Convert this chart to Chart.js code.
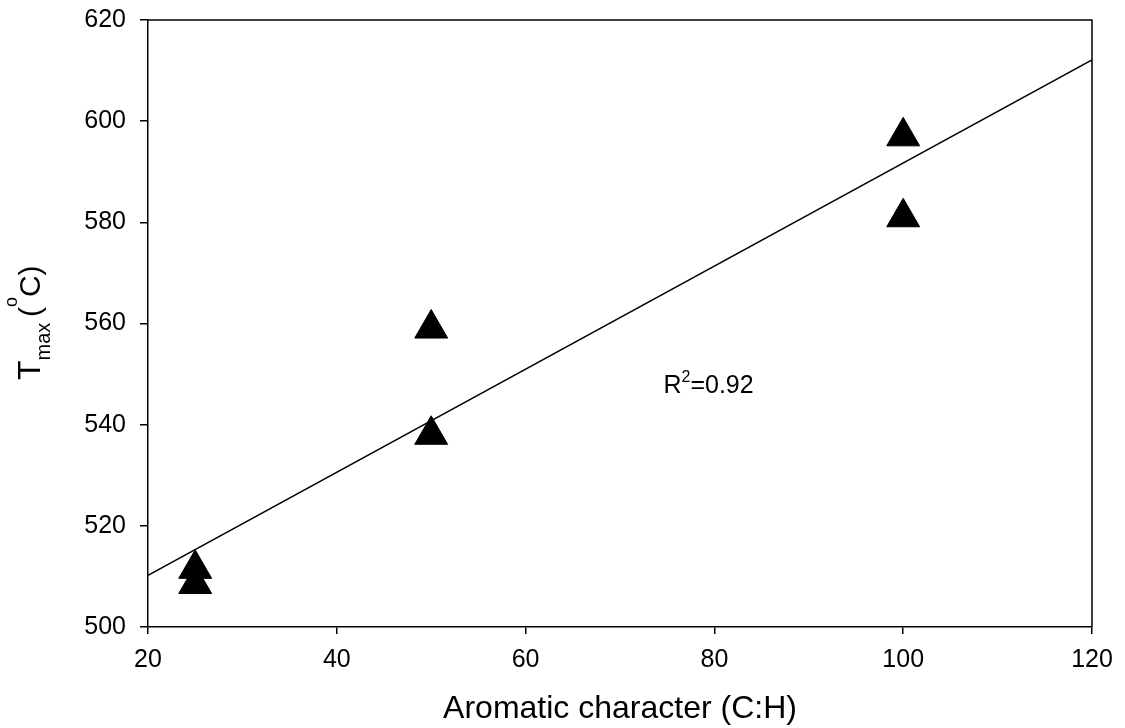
<!DOCTYPE html>
<html lang="en">
<head>
    <meta charset="UTF-8">
    <title>Tmax vs aromatic character</title>
    <script src="https://cdn.jsdelivr.net/npm/chart.js@4.4.1/dist/chart.umd.min.js"></script>
    <style>
        body { margin: 0; background: #fff; }
        canvas { display: block; }
    </style>
</head>
<body>
    <canvas id="grafica" width="1125" height="728"></canvas>
    <script>
// data
const aromatic = [25, 25, 50, 50, 100, 100];
const tmax = [511.5, 508.5, 559, 538, 597, 581];
// regression line ends
const fitX = [20, 120];
const fitY = [510.2, 612.1];
const xTicks = [20, 40, 60, 80, 100, 120];
const yTicks = [500, 520, 540, 560, 580, 600, 620];
const rText = ['R', '2', '=0.92'];
const rPos = [74.6, 546.2];

const FONT = "'Liberation Sans', Arial, sans-serif";

// box on top/right, y title with sub/superscript, R^2 note
const extras = {
  id: 'extras',
  afterDraw(chart) {
    const ctx = chart.ctx;
    const a = chart.chartArea;
    const xs = chart.scales.x, ys = chart.scales.y;
    ctx.save();
    ctx.strokeStyle = '#000';
    ctx.lineWidth = 1.5;
    ctx.beginPath();
    ctx.moveTo(a.left, a.top);
    ctx.lineTo(a.right, a.top);
    ctx.lineTo(a.right, a.bottom);
    ctx.stroke();

    ctx.fillStyle = '#000';
    ctx.textBaseline = 'alphabetic';
    ctx.textAlign = 'left';

    // R^2 label
    let px = xs.getPixelForValue(rPos[0]);
    let py = ys.getPixelForValue(rPos[1]);
    ctx.font = '25px ' + FONT;
    ctx.fillText(rText[0], px, py);
    px += ctx.measureText(rText[0]).width;
    ctx.font = '16px ' + FONT;
    ctx.fillText(rText[1], px, py - 11);
    px += ctx.measureText(rText[1]).width;
    ctx.font = '25px ' + FONT;
    ctx.fillText(rText[2], px, py);

    // y axis title
    ctx.translate(40, 380);
    ctx.rotate(-Math.PI / 2);
    let x = 0;
    ctx.font = '32px ' + FONT;
    ctx.fillText('T', x, 0);
    x += ctx.measureText('T').width;
    ctx.font = '20px ' + FONT;
    ctx.fillText('max', x, 10);
    x += ctx.measureText('max ').width;
    ctx.font = '30px ' + FONT;
    ctx.fillText('(', x, 0);
    x += ctx.measureText('(').width;
    ctx.font = '18px ' + FONT;
    ctx.fillText('o', x, -23);
    x += ctx.measureText('o').width;
    ctx.font = '30px ' + FONT;
    ctx.fillText('C)', x, 0);
    ctx.restore();
  }
};

const ctx = document.getElementById('grafica').getContext('2d');
new Chart(ctx, {
  type: 'scatter',
  data: {
    datasets: [{
      data: aromatic.map((v, i) => ({ x: v, y: tmax[i] })),
      pointStyle: 'triangle',
      pointRadius: 19,
      pointHoverRadius: 19,
      backgroundColor: '#000',
      borderColor: '#000',
      borderWidth: 1
    }, {
      type: 'line',
      data: fitX.map((v, i) => ({ x: v, y: fitY[i] })),
      borderColor: '#000',
      borderWidth: 1.5,
      pointRadius: 0,
      fill: false
    }]
  },
  options: {
    responsive: false,
    devicePixelRatio: 1,
    animation: false,
    layout: { padding: { top: 15, right: 33, left: 0, bottom: 0 } },
    plugins: { legend: { display: false }, tooltip: { enabled: false } },
    scales: {
      x: {
        type: 'linear',
        min: 20, max: 120,
        afterBuildTicks: s => { s.ticks = xTicks.map(v => ({ value: v })); },
        afterFit: s => { s.height = 101; s.paddingLeft = 0; s.paddingRight = 0; },
        border: { display: true, color: '#000', width: 1.5 },
        grid: { drawOnChartArea: false, drawTicks: true, tickLength: 7, color: '#000', lineWidth: 1.5 },
        ticks: { color: '#000', padding: 11, maxRotation: 0, font: { family: FONT, size: 25 } },
        title: {
          display: true,
          text: 'Aromatic character (C:H)',
          color: '#000',
          padding: { top: 0, bottom: 0 },
          font: { family: FONT, size: 32 }
        }
      },
      y: {
        type: 'linear',
        min: 500, max: 620,
        afterBuildTicks: s => { s.ticks = yTicks.map(v => ({ value: v })); },
        afterFit: s => { s.width = 148; s.paddingTop = 0; s.paddingBottom = 0; },
        border: { display: true, color: '#000', width: 1.5 },
        grid: { drawOnChartArea: false, drawTicks: true, tickLength: 8, color: '#000', lineWidth: 1.5 },
        ticks: { color: '#000', padding: 14, font: { family: FONT, size: 25 } }
      }
    }
  },
  plugins: [extras]
});
    </script>
</body>
</html>
